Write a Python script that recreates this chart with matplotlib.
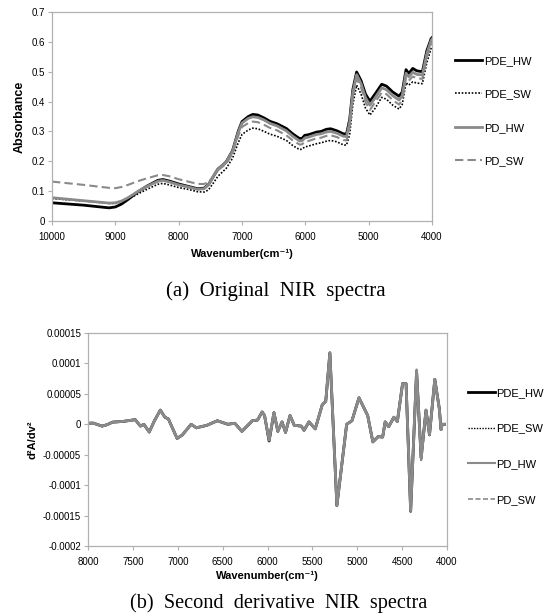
import numpy as np
import matplotlib
matplotlib.use('Agg')
import matplotlib.pyplot as plt

plt.rcParams['font.family'] = ['Liberation Sans', 'DejaVu Sans']

# (a) original spectra
wn = [10000, 9500, 9100, 9000, 8900, 8800, 8650, 8500, 8330, 8250, 8150, 8000,
      7850, 7700, 7600, 7530, 7450, 7380, 7300, 7250, 7150, 7060, 7000, 6900,
      6830, 6750, 6650, 6560, 6450, 6300, 6200, 6090, 6050, 6010, 5950, 5820,
      5750, 5670, 5600, 5500, 5400, 5350, 5300, 5250, 5190, 5120, 5050, 4980,
      4900, 4794, 4720, 4620, 4520, 4470, 4410, 4367, 4304, 4240, 4152, 4082,
      4014, 4000]

pde_hw = [0.061, 0.053, 0.044, 0.047, 0.057, 0.072, 0.097, 0.117, 0.136, 0.139, 0.134, 0.124,
          0.116, 0.108, 0.110, 0.122, 0.150, 0.174, 0.188, 0.198, 0.235, 0.300, 0.333, 0.350,
          0.357, 0.355, 0.345, 0.334, 0.326, 0.310, 0.292, 0.276, 0.277, 0.287, 0.289, 0.298,
          0.300, 0.307, 0.309, 0.302, 0.292, 0.291, 0.340, 0.440, 0.499, 0.470, 0.425, 0.401,
          0.425, 0.458, 0.452, 0.432, 0.418, 0.432, 0.507, 0.494, 0.511, 0.503, 0.500, 0.570,
          0.611, 0.614]
pde_sw = [0.075, 0.067, 0.059, 0.059, 0.064, 0.073, 0.090, 0.106, 0.123, 0.126, 0.121, 0.112,
          0.106, 0.098, 0.097, 0.104, 0.128, 0.150, 0.166, 0.176, 0.210, 0.262, 0.290, 0.305,
          0.311, 0.309, 0.300, 0.291, 0.284, 0.270, 0.253, 0.239, 0.241, 0.248, 0.251, 0.259,
          0.262, 0.267, 0.270, 0.265, 0.255, 0.254, 0.290, 0.390, 0.455, 0.425, 0.378, 0.355,
          0.377, 0.414, 0.408, 0.388, 0.375, 0.390, 0.463, 0.455, 0.466, 0.462, 0.460, 0.530,
          0.578, 0.582]
pd_hw = [0.078, 0.068, 0.060, 0.061, 0.067, 0.078, 0.098, 0.116, 0.133, 0.136, 0.131, 0.121,
         0.114, 0.106, 0.108, 0.121, 0.150, 0.174, 0.188, 0.197, 0.233, 0.296, 0.328, 0.344,
         0.349, 0.347, 0.338, 0.327, 0.319, 0.302, 0.284, 0.268, 0.269, 0.278, 0.281, 0.290,
         0.292, 0.298, 0.300, 0.294, 0.284, 0.283, 0.330, 0.430, 0.490, 0.460, 0.413, 0.388,
         0.412, 0.446, 0.440, 0.420, 0.405, 0.420, 0.495, 0.483, 0.498, 0.491, 0.489, 0.560,
         0.605, 0.609]
pd_sw = [0.132, 0.121, 0.111, 0.110, 0.114, 0.121, 0.133, 0.143, 0.153, 0.154, 0.150, 0.140,
         0.132, 0.124, 0.124, 0.130, 0.150, 0.170, 0.183, 0.192, 0.225, 0.285, 0.315, 0.328,
         0.333, 0.331, 0.322, 0.312, 0.304, 0.287, 0.270, 0.256, 0.257, 0.265, 0.268, 0.277,
         0.279, 0.285, 0.287, 0.281, 0.271, 0.270, 0.315, 0.415, 0.477, 0.447, 0.398, 0.372,
         0.397, 0.430, 0.425, 0.405, 0.390, 0.405, 0.480, 0.470, 0.484, 0.478, 0.476, 0.547,
         0.594, 0.598]

# (b) second derivative, in units of 1e-5
wn_d2 = [8000, 7942, 7844, 7786, 7727, 7610, 7474, 7416, 7377, 7318, 7260, 7194, 7143,
         7104, 7007, 6948, 6851, 6793, 6676, 6559, 6442, 6364, 6286, 6169, 6111, 6060,
         6033, 5982, 5928, 5885, 5838, 5799, 5749, 5702, 5624, 5593, 5538, 5468, 5390,
         5351, 5305, 5227, 5118, 5059, 4981, 4884, 4826, 4767, 4717, 4689, 4650, 4592,
         4553, 4495, 4456, 4405, 4339, 4288, 4234, 4195, 4136, 4086, 4066, 4054, 4030]
d2_pde_hw = [0.17, 0.2, -0.3, -0.06, 0.35, 0.47, 0.76, -0.3, 0, -1.28, 0.58, 2.33, 1.16,
             0.87, -2.33, -1.74, 0, -0.58, -0.17, 0.58, 0, 0.17, -1.16, 0.58, 0.7, 2.03,
             1.45, -2.75, 1.92, -1.16, 0.4, -1.34, 1.45, -0.17, -0.3, -0.99, 0.4, -0.76, 3.2,
             3.78, 11.74, -13.37, 0, 0.58, 4.36, 1.45, -2.9, -2.03, -2.1, 0.4, -0.4, 1.16,
             0.47, 6.69, 6.69, -14.3, 8.72, -5.52, 2.33, -1.74, 7.38, 2.62, -0.87, 0, 0]
d2_pde_sw = [0.17, 0.2, -0.3, -0.06, 0.35, 0.47, 0.76, -0.3, 0, -1.28, 0.58, 2.33, 1.16,
             0.87, -2.33, -1.74, 0, -0.58, -0.17, 0.58, 0, 0.17, -1.16, 0.58, 0.7, 2.03,
             1.45, -2.62, 1.92, -1.16, 0.4, -1.34, 1.45, -0.17, -0.3, -0.99, 0.4, -0.76, 3.2,
             3.78, 11.6, -13.2, 0, 0.58, 4.36, 1.45, -2.9, -2.03, -2.1, 0.4, -0.4, 1.16,
             0.47, 6.69, 6.69, -14.1, 8.8, -5.7, 2.33, -1.74, 7.38, 2.62, -0.87, 0, 0]
d2_pd_hw = [0.17, 0.2, -0.3, -0.06, 0.35, 0.47, 0.76, -0.3, 0, -1.28, 0.58, 2.33, 1.16,
            0.87, -2.33, -1.74, 0, -0.58, -0.17, 0.58, 0, 0.17, -1.16, 0.58, 0.7, 2.03,
            1.45, -2.62, 1.92, -1.16, 0.4, -1.34, 1.45, -0.17, -0.3, -0.99, 0.4, -0.76, 3.2,
            3.78, 11.74, -13.37, 0, 0.58, 4.36, 1.45, -2.9, -2.03, -2.1, 0.4, -0.4, 1.16,
            0.47, 6.69, 6.69, -14.24, 8.72, -5.52, 2.33, -1.74, 7.38, 2.62, -0.87, 0, 0]
d2_pd_sw = [0.17, 0.2, -0.3, -0.06, 0.35, 0.47, 0.76, -0.3, 0, -1.28, 0.58, 2.33, 1.16,
            0.87, -2.33, -1.74, 0, -0.58, -0.17, 0.58, 0, 0.17, -1.16, 0.58, 0.7, 2.03,
            1.45, -2.62, 1.92, -1.16, 0.4, -1.34, 1.45, -0.17, -0.3, -0.99, 0.4, -0.76, 3.2,
            3.78, 11.74, -13.37, 0, 0.58, 4.36, 1.45, -2.9, -2.03, -2.1, 0.4, -0.4, 1.16,
            0.47, 6.69, 6.69, -14.0, 9.0, -6.3, 2.33, -1.74, 7.38, 2.62, -0.87, 0, 0]

labels = ['PDE_HW', 'PDE_SW', 'PD_HW', 'PD_SW']
top_yticks = [0, 0.1, 0.2, 0.3, 0.4, 0.5, 0.6, 0.7]
top_xticks = [10000, 9000, 8000, 7000, 6000, 5000, 4000]
bot_yticks = [-0.0002, -0.00015, -0.0001, -0.00005, 0, 0.00005, 0.0001, 0.00015]
bot_ytick_labels = ['-0.0002', '-0.00015', '-0.0001', '-0.00005', '0', '0.00005', '0.0001', '0.00015']
bot_xticks = [8000, 7500, 7000, 6500, 6000, 5500, 5000, 4500, 4000]

gray = '#8a8a8a'
styles = [dict(color='black', lw=2.0, ls='-'),
          dict(color='black', lw=1.2, ls=(0, (1, 1))),
          dict(color=gray, lw=2.0, ls='-'),
          dict(color=gray, lw=1.5, ls=(0, (4, 2)))]
spine_col = '#b0b0b0'

fig = plt.figure(figsize=(5.46, 6.15), dpi=100)


def style_axes(ax):
    for s in ax.spines.values():
        s.set_color(spine_col)
        s.set_linewidth(0.9)
    ax.tick_params(axis='both', direction='out', length=3, width=0.8, color=spine_col,
                   labelsize=7, pad=2)
    ax.tick_params(axis='x', pad=5)


# ---- (a)
ax1 = fig.add_axes([52/546, 1-221/615, 380/546, 209/615])
for y, lab, st in zip([pde_hw, pde_sw, pd_hw, pd_sw], labels, styles):
    ax1.plot(wn, y, label=lab, **st)
ax1.set_xlim(10000, 4000)
ax1.set_ylim(0, 0.7)
ax1.set_xticks(top_xticks)
ax1.set_yticks(top_yticks)
ax1.set_yticklabels([('%g' % v) for v in top_yticks])
style_axes(ax1)
ax1.set_ylabel('Absorbance', fontsize=9, fontweight='bold', labelpad=4)
ax1.set_xlabel('Wavenumber(cm⁻¹)', fontsize=8, fontweight='bold', labelpad=5)
h, l = ax1.get_legend_handles_labels()
fig.legend(h, l, loc='upper left', bbox_to_anchor=(455/546, 1-56/615), frameon=False,
           fontsize=8, labelspacing=2.1, handlelength=2.4, handletextpad=0.25,
           borderpad=0, borderaxespad=0)

# ---- (b)
ax2 = fig.add_axes([88/546, 1-546/615, 359/546, 213/615])
for y, lab, st in zip([d2_pde_hw, d2_pde_sw, d2_pd_hw, d2_pd_sw], labels, styles):
    st2 = dict(st)
    if lab != 'PDE_HW':
        st2['color'] = gray
    ax2.plot(wn_d2, np.array(y) * 1e-5, label=lab, **st2)
ax2.set_xlim(8000, 4000)
ax2.set_ylim(-0.0002, 0.00015)
ax2.set_xticks(bot_xticks)
ax2.set_yticks(bot_yticks)
ax2.set_yticklabels(bot_ytick_labels)
style_axes(ax2)
ax2.set_ylabel('d²A/dv²', fontsize=8, fontweight='bold', labelpad=4)
ax2.set_xlabel('Wavenumber(cm⁻¹)', fontsize=8, fontweight='bold', labelpad=3)
leg_handles = [plt.Line2D([], [], **styles[0]),
               plt.Line2D([], [], color='black', lw=1.0, ls=(0, (1, 1))),
               plt.Line2D([], [], color=gray, lw=1.5, ls='-'),
               plt.Line2D([], [], color=gray, lw=1.2, ls=(0, (3, 1.5)))]
fig.legend(leg_handles, labels, loc='upper left', bbox_to_anchor=(468/546, 1-388/615),
           frameon=False, fontsize=8, labelspacing=2.3, handlelength=2.4,
           handletextpad=0.1, borderpad=0, borderaxespad=0)

# captions
fig.text(276/546, 1-291/615, '(a)  Original  NIR  spectra', ha='center', va='center',
         family='Liberation Serif', fontsize=15)
fig.text(279/546, 1-603/615, '(b)  Second  derivative  NIR  spectra', ha='center',
         va='center', family='Liberation Serif', fontsize=14.6)

fig.savefig('out.png', dpi=100)
